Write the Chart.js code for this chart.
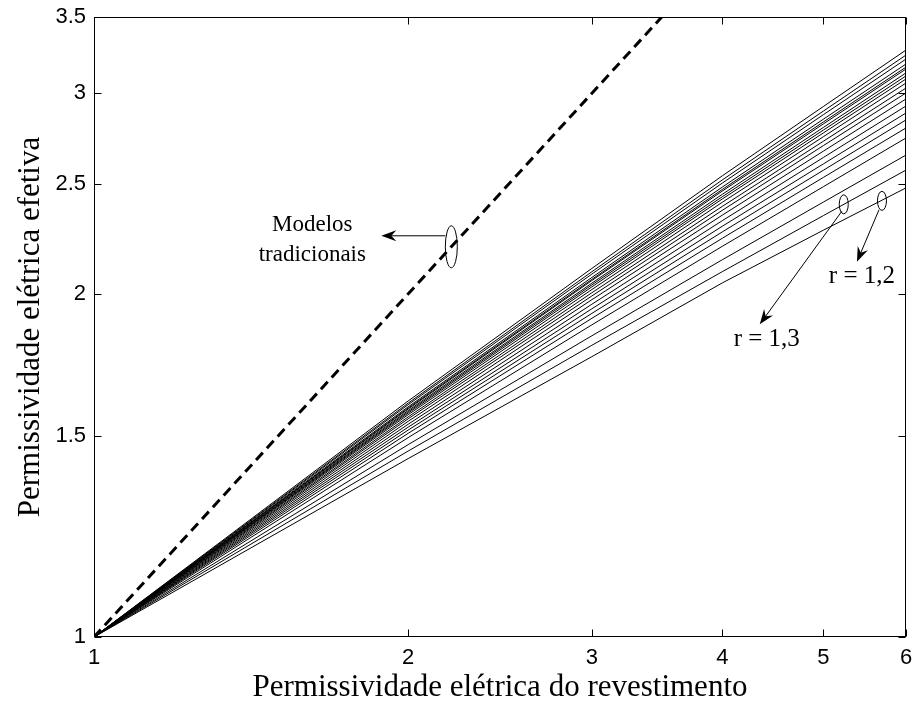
<!DOCTYPE html>
<html>
<head>
<meta charset="utf-8">
<script src="https://cdn.jsdelivr.net/npm/chart.js@4.4.1/dist/chart.umd.min.js"></script>
<style>
  html, body { margin: 0; padding: 0; background: #fff; }
  canvas { display: block; }
</style>
</head>
<body>
<canvas id="plot1" width="912" height="708"></canvas>
<script>
// Coating permittivity (x axis)
const coatingPermittivity = [1, 2, 3, 4, 5, 6];

// Aspect ratio r of each curve, bottom curve first
const rValues = [1.2, 1.3, 1.4, 1.5, 1.6, 1.7, 1.8, 1.9, 2.0, 2.1, 2.2,
                 2.3, 2.4, 2.5, 2.6, 2.7, 2.8, 2.9, 3.0, 3.1, 3.2];

// Effective permittivity, one row per r, sampled at coatingPermittivity
const effectivePermittivity = [
    [1, 1.434, 1.762, 2.045, 2.275, 2.478],
    [1, 1.456, 1.803, 2.092, 2.343, 2.569],
    [1, 1.475, 1.838, 2.143, 2.408, 2.648],
    [1, 1.496, 1.879, 2.202, 2.484, 2.741],
    [1, 1.509, 1.904, 2.238, 2.531, 2.797],
    [1, 1.519, 1.923, 2.267, 2.568, 2.843],
    [1, 1.528, 1.941, 2.293, 2.601, 2.883],
    [1, 1.537, 1.959, 2.319, 2.635, 2.924],
    [1, 1.546, 1.977, 2.345, 2.669, 2.966],
    [1, 1.554, 1.992, 2.368, 2.699, 3.002],
    [1, 1.560, 2.005, 2.387, 2.723, 3.032],
    [1, 1.567, 2.018, 2.407, 2.748, 3.063],
    [1, 1.572, 2.029, 2.423, 2.769, 3.088],
    [1, 1.576, 2.037, 2.434, 2.785, 3.107],
    [1, 1.580, 2.044, 2.446, 2.800, 3.126],
    [1, 1.585, 2.055, 2.462, 2.820, 3.151],
    [1, 1.588, 2.060, 2.470, 2.831, 3.163],
    [1, 1.592, 2.068, 2.482, 2.847, 3.183],
    [1, 1.599, 2.082, 2.502, 2.873, 3.215],
    [1, 1.604, 2.092, 2.518, 2.894, 3.241],
    [1, 1.611, 2.106, 2.539, 2.921, 3.274]
];

// Traditional models: effective permittivity equals coating permittivity
const traditionalX = [1, 3.5];
const traditionalY = [1, 3.5];

const xTicks = [1, 2, 3, 4, 5, 6];
const yTicks = [1, 1.5, 2, 2.5, 3, 3.5];

const serif = '"Liberation Serif", "Times New Roman", serif';
const sans = '"Liberation Sans", Arial, sans-serif';

function drawArrow(ctx, x0, y0, x1, y1) {
    const ang = Math.atan2(y1 - y0, x1 - x0);
    ctx.beginPath();
    ctx.moveTo(x0, y0);
    ctx.lineTo(x1 - Math.cos(ang) * 8, y1 - Math.sin(ang) * 8);
    ctx.stroke();
    ctx.save();
    ctx.translate(x1, y1);
    ctx.rotate(ang);
    ctx.beginPath();
    ctx.moveTo(0, 0);
    ctx.lineTo(-15, -5.5);
    ctx.lineTo(-10, 0);
    ctx.lineTo(-15, 5.5);
    ctx.closePath();
    ctx.fill();
    ctx.restore();
}

// Box, inward ticks on all sides and the callouts
const framePlugin = {
    id: 'frame',
    afterDraw(chart) {
        const { ctx, chartArea: a, scales: { x, y } } = chart;
        ctx.save();
        ctx.strokeStyle = '#000';
        ctx.fillStyle = '#000';
        ctx.lineWidth = 1;

        const L = Math.round(a.left) + 0.5, R = Math.round(a.right) - 0.5;
        const T = Math.round(a.top) + 0.5, B = Math.round(a.bottom) - 0.5;
        ctx.strokeRect(L, T, R - L, B - T);

        ctx.beginPath();
        xTicks.forEach(v => {
            const px = Math.round(x.getPixelForValue(v)) + 0.5;
            ctx.moveTo(px, B); ctx.lineTo(px, B - 7);
            ctx.moveTo(px, T); ctx.lineTo(px, T + 7);
        });
        yTicks.forEach(v => {
            const py = Math.round(y.getPixelForValue(v)) + 0.5;
            ctx.moveTo(L, py); ctx.lineTo(L + 7, py);
            ctx.moveTo(R, py); ctx.lineTo(R - 7, py);
        });
        ctx.stroke();

        // callouts: ellipse on a curve, arrow, label
        const callouts = [
            { at: [2.2, 2.2], rx: 6, ry: 21, from: [-6, -11], to: [-70, -11],
              lines: ['Modelos', 'tradicionais'], text: [-139, -22], size: 23 },
            { at: [5.69, 2.414], rx: 4.5, ry: 9.5, from: [-3, 9], to: [-25, 61],
              lines: ['r = 1,2'], text: [-20, 76], size: 25 },
            { at: [5.23, 2.397], rx: 4.5, ry: 9.5, from: [-2, 7], to: [-84, 120],
              lines: ['r = 1,3'], text: [-77, 135], size: 25 }
        ];
        callouts.forEach(c => {
            const cx = x.getPixelForValue(c.at[0]);
            const cy = y.getPixelForValue(c.at[1]);
            ctx.beginPath();
            ctx.ellipse(cx, cy, c.rx, c.ry, 0, 0, Math.PI * 2);
            ctx.stroke();
            drawArrow(ctx, cx + c.from[0], cy + c.from[1], cx + c.to[0], cy + c.to[1]);
            ctx.font = c.size + 'px ' + serif;
            ctx.textAlign = 'center';
            ctx.textBaseline = 'middle';
            c.lines.forEach((t, i) => {
                ctx.fillText(t, cx + c.text[0], cy + c.text[1] + i * 30);
            });
        });
        ctx.restore();
    }
};

const datasets = effectivePermittivity.map((row, i) => ({
    label: 'r = ' + rValues[i],
    data: coatingPermittivity.map((xv, j) => ({ x: xv, y: row[j] })),
    borderColor: '#000',
    borderWidth: 1,
    showLine: true,
    fill: false
}));

datasets.push({
    label: 'Modelos tradicionais',
    data: traditionalX.map((xv, j) => ({ x: xv, y: traditionalY[j] })),
    borderColor: '#000',
    borderWidth: 3,
    borderDash: [10, 6],
    showLine: true,
    fill: false
});

const plot = document.getElementById('plot1').getContext('2d');
new Chart(plot, {
    type: 'scatter',
    data: { datasets },
    options: {
        responsive: false,
        animation: false,
        layout: { padding: { top: 17, right: 6, left: 0, bottom: 0 } },
        elements: { point: { radius: 0, hoverRadius: 0 }, line: { tension: 0 } },
        plugins: { legend: { display: false }, tooltip: { enabled: false } },
        scales: {
            x: {
                type: 'logarithmic',
                min: 1,
                max: 6,
                grid: { display: false, drawTicks: false, tickLength: 0 },
                border: { display: false },
                afterBuildTicks: s => { s.ticks = xTicks.map(v => ({ value: v })); },
                afterFit: s => { s.height = 71; s.paddingLeft = 0; s.paddingRight = 0; },
                ticks: {
                    autoSkip: false,
                    maxRotation: 0,
                    padding: 8,
                    color: '#000',
                    font: { family: sans, size: 22 },
                    callback: v => String(v)
                },
                title: {
                    display: true,
                    text: 'Permissividade elétrica do revestimento',
                    color: '#000',
                    font: { family: serif, size: 31 },
                    padding: { top: 0, bottom: 2 }
                }
            },
            y: {
                type: 'logarithmic',
                min: 1,
                max: 3.5,
                grid: { display: false, drawTicks: false, tickLength: 0 },
                border: { display: false },
                afterBuildTicks: s => { s.ticks = yTicks.map(v => ({ value: v })); },
                afterFit: s => { s.width = 94; s.paddingTop = 0; s.paddingBottom = 0; },
                ticks: {
                    autoSkip: false,
                    padding: 8,
                    color: '#000',
                    font: { family: sans, size: 22 },
                    callback: v => String(v)
                },
                title: {
                    display: true,
                    text: 'Permissividade elétrica efetiva',
                    color: '#000',
                    font: { family: serif, size: 31 },
                    padding: { top: 12, bottom: 0 }
                }
            }
        }
    },
    plugins: [framePlugin]
});
</script>
</body>
</html>
